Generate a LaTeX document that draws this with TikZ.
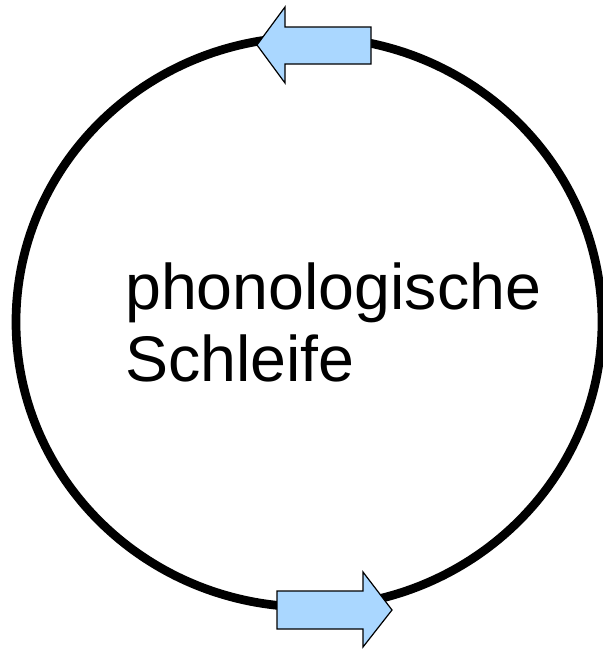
\documentclass[tikz,border=0pt]{standalone}
\usepackage{fontspec}
\setmainfont{Liberation Sans}
\definecolor{arrowblue}{RGB}{170,215,255}
\tikzset{
  loopline/.style={line width=8.7pt, draw=black},
  arrowshape/.style={fill=arrowblue, draw=black, line width=1.2pt, line join=miter},
  label/.style={anchor=base west, inner sep=0pt, font=\fontsize{64.5}{72}\selectfont}
}
\begin{document}
\begin{tikzpicture}[x=1pt,y=-1pt]
\useasboundingbox (0,0) rectangle (603,649);
\fill[white] (0,0) rectangle (603,649);
\draw[loopline] (309,322) ellipse [x radius=293, y radius=285];
% top arrow pointing left
\draw[arrowshape] (257,45) -- (285,7) -- (285,27) -- (371,27) -- (371,64) -- (285,64) -- (285,83) -- cycle;
% bottom arrow pointing right
\draw[arrowshape] (392,610) -- (363,572) -- (363,591) -- (277,591) -- (277,629) -- (363,629) -- (363,647) -- cycle;
\node[label] (t1) at (125,309) {phonologische};
\node[label] (t2) at (125,381) {Schleife};
\end{tikzpicture}
\end{document}
